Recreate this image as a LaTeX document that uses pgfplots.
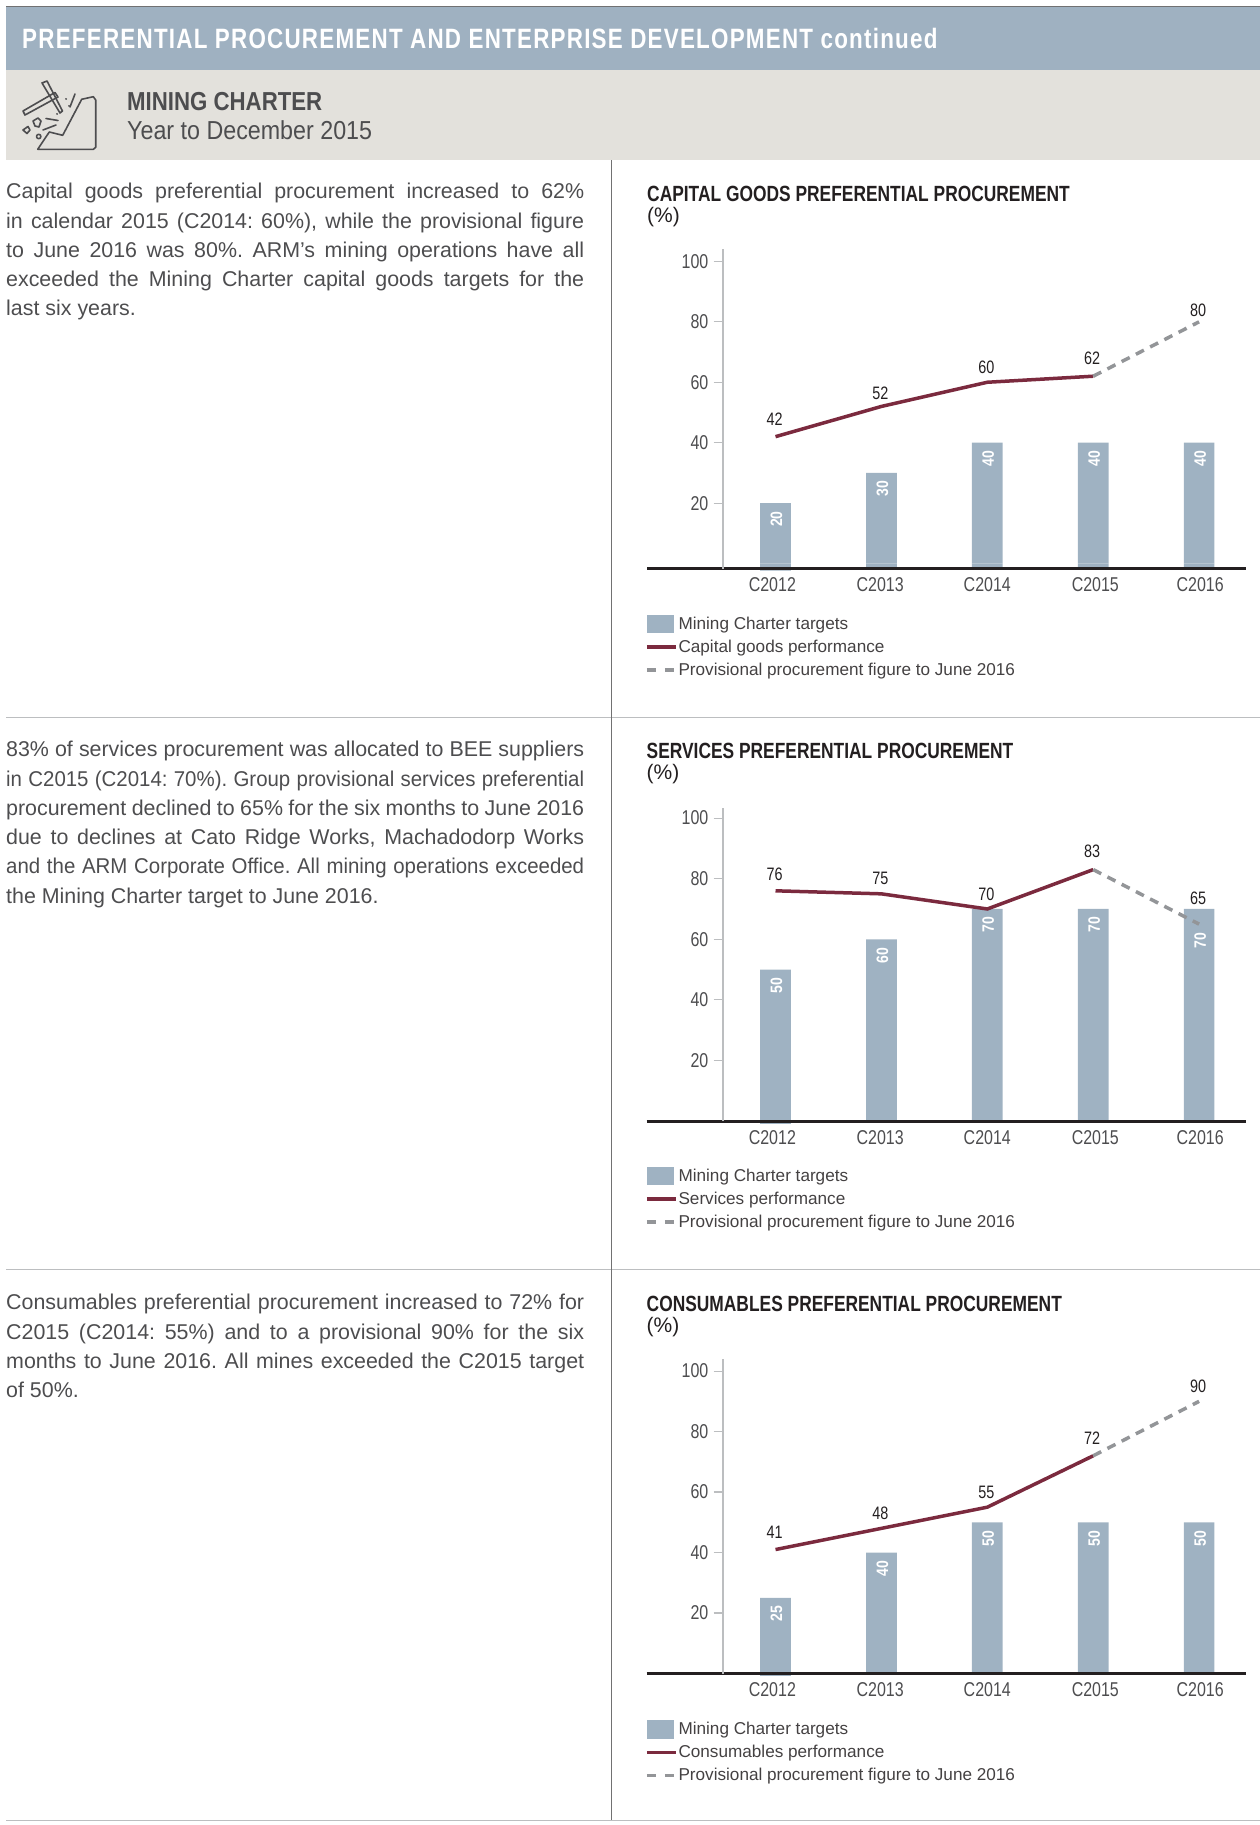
\documentclass[border=0pt]{standalone}
\usepackage{fontspec}
\usepackage{pgfplots}
\pgfplotsset{compat=1.18}
\setmainfont{Liberation Sans}
\newfontfamily\nar[FakeStretch=0.8]{Liberation Sans}
\newfontfamily\ttl[FakeStretch=0.79]{Liberation Sans}
\newfontfamily\bann[FakeStretch=0.8,LetterSpace=4.4]{Liberation Sans}
\newfontfamily\barl[FakeStretch=0.85]{Liberation Sans}
\newfontfamily\minc[FakeStretch=0.855]{Liberation Sans}
\newfontfamily\sub[FakeStretch=0.895]{Liberation Sans}
\newfontfamily\tight[FakeStretch=0.955]{Liberation Sans}
\def\fs#1{\fontsize{#1pt}{#1pt}\selectfont}
\definecolor{band}{HTML}{9FB1C1}
\definecolor{sand}{HTML}{E3E1DC}
\definecolor{barc}{HTML}{9FB2C2}
\definecolor{perf}{HTML}{7B2A3E}
\definecolor{dashc}{HTML}{939598}
\definecolor{txt}{HTML}{4D4D4F}
\definecolor{rule}{HTML}{BCBEC0}
\definecolor{ink}{HTML}{231F20}
\pgfplotsset{
  chart/.style={
    scale only axis, width=523pt, anchor=south west, clip=false, axis on top,
    xmin=-0.4958, xmax=4.443,
    axis x line*=bottom, axis y line*=left,
    x axis line style={-, draw=ink, line width=3pt},
    y axis line style={-, draw=rule, line width=1.5pt},
    xtick={-0.03,0.988,2,3.02,4.01},
    xticklabels={C2012,C2013,C2014,C2015,C2016},
    xtick style={draw=none}, ytick={20,40,60,80,100},
    ytick style={draw=rule, line width=1.2pt},
    tick align=outside, major tick length=9.5pt,
    /pgf/number format/assume math mode=true,
    yticklabel style={font=\nar\fs{20}, text=txt, inner sep=0pt, xshift=-5pt},
    xticklabel style={font=\nar\fs{20}, text=txt, inner sep=0pt, anchor=base, yshift=-13.5pt},
    legend cell align=left,
    legend style={draw=none, fill=none, inner sep=0pt, outer sep=0pt, anchor=north west,
      font=\fs{17.15}, text=ink!85, row sep=0pt,
      nodes={inner sep=0pt, text height=15pt, text depth=8pt},
      /tikz/every odd column/.style={column sep=1pt}},
  },
  barser/.style={ybar, bar width=30.7pt, fill=barc, draw=none, bar shift=0pt,
    point meta=y,
    nodes near coords={\pgfmathprintnumber{\pgfplotspointmeta}},
    every node near coord/.style={yshift=-8pt, xshift=1pt, rotate=90, anchor=east, inner sep=0pt,
      font=\barl\fs{16.5}\bfseries, text=white},
    legend image code/.code={\fill[barc] (0pt,-7.8pt) rectangle (27.7pt,10.8pt);}},
  filler/.style={ybar, bar width=30.7pt, fill=barc, draw=none, bar shift=0pt, forget plot},
  perfser/.style={no marks, sharp plot, draw=perf, line width=3.5pt, point meta=y,
    nodes near coords={\pgfmathprintnumber{\pgfplotspointmeta}},
    every node near coord/.style={anchor=center, yshift=15pt, xshift=-1pt, inner sep=0pt,
      font=\nar\fs{18}, text=ink},
    legend image code/.code={\draw[perf, line width=3.5pt] (0pt,1.5pt) -- (29pt,1.5pt);}},
  provser/.style={no marks, sharp plot, draw=dashc, line width=3.5pt,
    dash pattern=on 9pt off 7pt, point meta=explicit symbolic,
    nodes near coords={\pgfplotspointmeta},
    every node near coord/.style={anchor=center, yshift=15pt, xshift=-1pt, inner sep=0pt,
      font=\nar\fs{18}, text=ink},
    legend image code/.code={\draw[dashc, line width=3.5pt, dash pattern=on 9pt off 9pt] (0pt,1.5pt) -- (28pt,1.5pt);}},
}
\newcommand{\fl}[1]{\hbox to 578pt{#1}}
\newcommand{\la}[1]{\hbox{#1}}
\newcommand{\para}[2]{\node[anchor=north west, inner sep=0pt, text=txt] at (6,#1)
  {\parbox[t]{578pt}{\fs{21.4}\baselineskip=29.3pt\parindent=0pt\frenchspacing
   \spaceskip=.278em plus 1em minus .2em\relax #2}};}
\begin{document}
\begin{tikzpicture}
\begin{scope}[x=1pt,y=-1pt]
\path[use as bounding box] (0,0) rectangle (1260,1825);
\fill[band] (6,7) rectangle (1260,70);
\fill[sand] (6,70) rectangle (1260,160);
\draw[line width=1.2pt, draw=txt!80] (6,6.3) -- (1260,6.3);
\node[anchor=base west, inner sep=0pt, text=white] at (22,49)
  {\bann\fs{28}\bfseries PREFERENTIAL PROCUREMENT AND ENTERPRISE DEVELOPMENT continued};
\node[anchor=base west, inner sep=0pt, text=txt] at (127,110.5) {\minc\fs{26}\bfseries MINING CHARTER};
\node[anchor=base west, inner sep=0pt, text=txt] at (127,139.5) {\sub\fs{26}Year to December 2015};
% icon
\begin{scope}[draw=txt, line width=1.6pt, line join=round, line cap=round]
\draw (37.7,149.3) -- (49.3,132) -- (62.7,135.3) -- (81.7,99.3) -- (93.3,96.7) -- (95.7,100) -- (95.7,147.3) -- (93.3,149.3) -- cycle;
\draw (23,111) -- (55,92.5) -- (58,97) -- (25,115) -- cycle;
\draw (42,83) -- (47,81) -- (62.5,111) -- (60,113) -- cycle;
\draw (33,121) -- (38,118) -- (41,121) -- (39,127) -- (35,126) -- cycle;
\draw (23,130) -- (28,126.5) -- (30,130) -- (27,133.5) -- cycle;
\draw (38.7,136.5) circle (2.2);
\draw (46,118.5) -- (58,120.5);
\draw (43,130) -- (56,125);
\draw (70,107) -- (75,94);
\draw[line width=2pt] (66,99) -- (66.1,99);
\draw[line width=2pt] (69,106) -- (69.1,106);
\draw[line width=2pt] (57,114) -- (57.1,114);
\end{scope}
% rules
\draw[rule, line width=1.8pt] (6,717.5) -- (1260,717.5);
\draw[rule, line width=1.8pt] (6,1269.5) -- (1260,1269.5);
\draw[rule, line width=1.8pt] (6,1820.5) -- (1260,1820.5);
\draw[txt!80, line width=1.4pt] (611.5,160) -- (611.5,1820);
% paragraphs
\para{183}{\fl{Capital goods preferential procurement increased to 62\%}\fl{in calendar 2015 (C2014: 60\%), while the provisional figure}\fl{to June 2016 was 80\%. ARM’s mining operations have all}\fl{exceeded the Mining Charter capital goods targets for the}\la{last six years.}}
\para{741}{\fl{83\% of services procurement was allocated to BEE suppliers}\fl{\tight\fs{21.4}in C2015 (C2014: 70\%). Group provisional services preferential}\fl{procurement declined to 65\% for the six months to June 2016}\fl{due to declines at Cato Ridge Works, Machadodorp Works}\fl{\tight\fs{21.4}and the ARM Corporate Office. All mining operations exceeded}\la{the Mining Charter target to June 2016.}}
\para{1294}{\fl{Consumables preferential procurement increased to 72\% for}\fl{C2015 (C2014: 55\%) and to a provisional 90\% for the six}\fl{months to June 2016. All mines exceeded the C2015 target}\la{of 50\%.}}
% chart headings
\node[anchor=base west, inner sep=0pt, text=ink] at (647,201) {\ttl\fs{22}\bfseries CAPITAL GOODS PREFERENTIAL PROCUREMENT};
\node[anchor=base west, inner sep=0pt, text=ink] at (647,222) {\fs{21}(\%)};
\node[anchor=base west, inner sep=0pt, text=ink] at (646.5,758) {\ttl\fs{22}\bfseries SERVICES PREFERENTIAL PROCUREMENT};
\node[anchor=base west, inner sep=0pt, text=ink] at (646.5,779) {\fs{21}(\%)};
\node[anchor=base west, inner sep=0pt, text=ink] at (646.5,1311) {\ttl\fs{22}\bfseries CONSUMABLES PREFERENTIAL PROCUREMENT};
\node[anchor=base west, inner sep=0pt, text=ink] at (646.5,1332) {\fs{21}(\%)};
% baseline stubs left of the y axes
\draw[ink, line width=3pt] (647,568.7) -- (723,568.7);
\draw[ink, line width=3pt] (646.5,1121) -- (723,1121);
\draw[ink, line width=3pt] (646.5,1673.5) -- (723,1673.5);
\end{scope}

% Chart 1
\begin{axis}[chart, at={(723pt,-568.7pt)}, height=319.7pt, ymin=-1.7, ymax=104.1,
  legend style={at={(-0.1491,-0.1418)}}]
\addplot[filler] coordinates {(0,-2.3)(1,-1.7)(2,-1.7)(3,-1.7)(4,-1.7)};
\addplot[barser] coordinates {(0,20)(1,30)(2,40)(3,40)(4,40)};
\addlegendentry{Mining Charter targets}
\addplot[perfser, coordinate style/.condition={x==0}{yshift=2pt}, coordinate style/.condition={x==1}{yshift=-1.5pt}, coordinate style/.condition={x==3}{yshift=3pt}] coordinates {(0,42)(1,52)(2,60)(3,62)};
\addlegendentry{Capital goods performance}
\addplot[provser, coordinate style/.condition={x==4}{yshift=-3pt}] coordinates {(3,62)[{}] (4,80)[80]};
\addlegendentry{Provisional procurement figure to June 2016}
\end{axis}

% Chart 2
\begin{axis}[chart, at={(723pt,-1121pt)}, height=313.5pt, ymin=0, ymax=103.5,
  legend style={at={(-0.1491,-0.1435)}}]
\addplot[filler] coordinates {(0,-0.9)};
\addplot[barser, coordinate style/.condition={x==4}{yshift=-16pt}] coordinates {(0,50)(1,60)(2,70)(3,70)(4,70)};
\addlegendentry{Mining Charter targets}
\addplot[perfser, coordinate style/.condition={x==0}{yshift=2pt}, coordinate style/.condition={x==3}{yshift=3pt}] coordinates {(0,76)(1,75)(2,70)(3,83)};
\addlegendentry{Services performance}
\addplot[provser, coordinate style/.condition={x==4}{yshift=11pt}] coordinates {(3,83)[{}] (4,65)[65]};
\addlegendentry{Provisional procurement figure to June 2016}
\end{axis}

% Chart 3
\begin{axis}[chart, at={(723pt,-1673.5pt)}, height=314.5pt, ymin=0, ymax=104,
  legend style={at={(-0.1491,-0.1467)}}]
\addplot[filler] coordinates {(0,-0.9)};
\addplot[barser] coordinates {(0,25)(1,40)(2,50)(3,50)(4,50)};
\addlegendentry{Mining Charter targets}
\addplot[perfser, coordinate style/.condition={x==0}{yshift=2pt}, coordinate style/.condition={x==3}{yshift=3pt}] coordinates {(0,41)(1,48)(2,55)(3,72)};
\addlegendentry{Consumables performance}
\addplot[provser] coordinates {(3,72)[{}] (4,90)[90]};
\addlegendentry{Provisional procurement figure to June 2016}
\end{axis}
\end{tikzpicture}
\end{document}
